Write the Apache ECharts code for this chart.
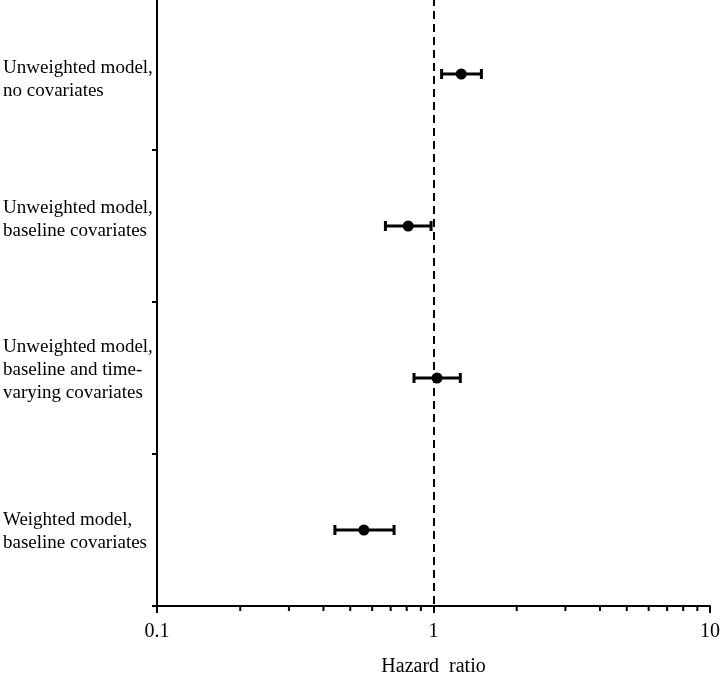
<!DOCTYPE html>
<html>
<head>
<meta charset="utf-8">
<script src="https://cdn.jsdelivr.net/npm/echarts@6/dist/echarts.min.js"></script>
<style>html,body{margin:0;padding:0;background:#fff;}#c{width:720px;height:674px;}</style>
</head>
<body>
<div id="c"></div>
<script>
// ---- data ----
var categories = [
  'Unweighted model,\nno covariates',
  'Unweighted model,\nbaseline covariates',
  'Unweighted model,\nbaseline and time-\nvarying covariates',
  'Weighted model,\nbaseline covariates'
];
var hazardRatio = [1.26, 0.81, 1.03, 0.56];
var ciLower = [1.07, 0.67, 0.85, 0.44];
var ciUpper = [1.49, 0.98, 1.25, 0.72];
var xTickLabels = ['0.1', '1', '10'];
var minorTickValues = [0.2, 0.3, 0.4, 0.5, 0.6, 0.7, 0.8, 0.9, 2, 3, 4, 5, 6, 7, 8, 9];
var referenceValue = 1;
var xAxisName = 'Hazard  ratio';

// ---- rendering ----
var FONT = '"Liberation Serif", "Times New Roman", serif';
// vertical nudges of the category labels (spacer line before / after)
var labelSpacer = [['s12', ''], ['', 's12'], ['', 's16'], ['s4', '']];
var chart = echarts.init(document.getElementById('c'), null, {renderer: 'canvas'});

var errData = categories.map(function (c, i) { return [ciLower[i], ciUpper[i], i]; });
var pointData = categories.map(function (c, i) { return [hazardRatio[i], i]; });

var option = {
  animation: false,
  backgroundColor: '#fff',
  grid: {left: 157, right: 10, top: -2, bottom: 68, containLabel: false, outerBoundsMode: 'none'},
  xAxis: {
    type: 'log', logBase: 10, min: 0.1, max: 10,
    name: xAxisName, nameLocation: 'middle', nameGap: 51,
    nameTextStyle: {fontFamily: FONT, fontSize: 20, color: '#000'},
    axisLine: {show: true, lineStyle: {color: '#000', width: 2}},
    axisTick: {show: true, length: 7, lineStyle: {color: '#000', width: 2}},
    axisLabel: {
      fontFamily: FONT, fontSize: 20, color: '#000', margin: 16,
      showMinLabel: true, showMaxLabel: true,
      formatter: function (v) {
        var k = Math.round(Math.log10(v)) + 1;
        return xTickLabels[k] !== undefined ? xTickLabels[k] : '';
      }
    },
    splitLine: {show: false},
    minorTick: {show: false}
  },
  yAxis: {
    type: 'category', inverse: true, boundaryGap: true, position: 'left',
    data: categories,
    axisLine: {show: true, lineStyle: {color: '#000', width: 2}},
    axisTick: {show: true, length: 5, inside: false, lineStyle: {color: '#000', width: 2}},
    axisLabel: {
      fontFamily: FONT, fontSize: 19, color: '#000', lineHeight: 23,
      align: 'left', margin: 154, verticalAlign: 'middle',
      formatter: function (value, index) {
        var sp = labelSpacer[index] || ['', ''];
        var lines = value.split('\n').map(function (l) { return '{t|' + l + '}'; });
        if (sp[0]) lines.unshift('{' + sp[0] + '| }');
        if (sp[1]) lines.push('{' + sp[1] + '| }');
        return lines.join('\n');
      },
      rich: {
        t: {fontFamily: FONT, fontSize: 19, color: '#000', lineHeight: 23, align: 'left'},
        s4: {fontSize: 1, lineHeight: 4},
        s12: {fontSize: 1, lineHeight: 12},
        s16: {fontSize: 1, lineHeight: 16}
      }
    },
    splitLine: {show: false}
  },
  series: [
    {
      type: 'custom',
      silent: true,
      clip: false,
      data: minorTickValues.map(function (v) { return [v, 0]; }),
      renderItem: function (params, api) {
        var p = api.coord([api.value(0), 0]);
        var bottom = params.coordSys.y + params.coordSys.height;
        return {
          type: 'line',
          shape: {x1: p[0], y1: bottom, x2: p[0], y2: bottom + 5},
          style: {stroke: '#000', lineWidth: 2}
        };
      }
    },
    {
      type: 'custom',
      silent: true,
      data: errData,
      z: 3,
      renderItem: function (params, api) {
        var a = api.coord([api.value(0), api.value(2)]);
        var b = api.coord([api.value(1), api.value(2)]);
        var h = 5;
        var st = {stroke: '#000', lineWidth: 3};
        return {
          type: 'group',
          children: [
            {type: 'line', shape: {x1: a[0], y1: a[1], x2: b[0], y2: b[1]}, style: st},
            {type: 'line', shape: {x1: a[0], y1: a[1] - h, x2: a[0], y2: a[1] + h}, style: st},
            {type: 'line', shape: {x1: b[0], y1: b[1] - h, x2: b[0], y2: b[1] + h}, style: st}
          ]
        };
      }
    },
    {
      type: 'scatter',
      data: pointData,
      symbol: 'circle',
      symbolSize: 11,
      itemStyle: {color: '#000', opacity: 1},
      z: 4,
      markLine: {
        silent: true,
        symbol: ['none', 'none'],
        label: {show: false},
        lineStyle: {color: '#000', type: [8, 5], width: 2},
        data: [{xAxis: referenceValue}]
      }
    }
  ]
};
chart.setOption(option);
</script>
</body>
</html>
